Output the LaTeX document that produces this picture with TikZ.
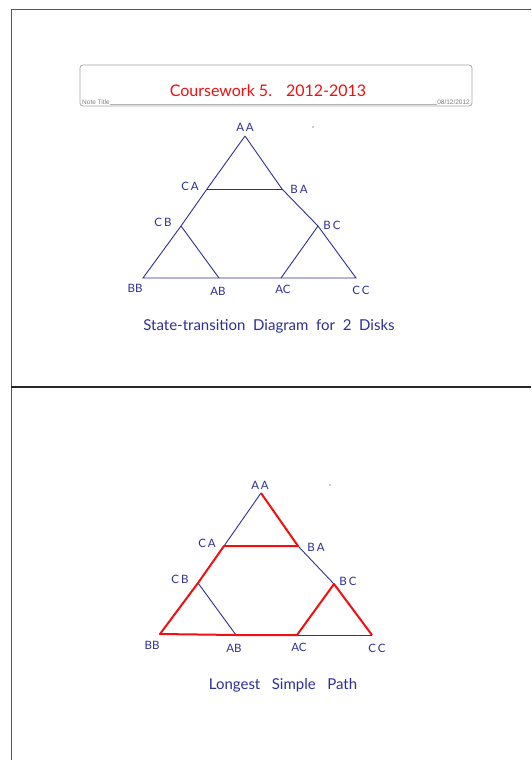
\documentclass[tikz,border=0pt]{standalone}
\usepackage{fontspec}
\setmainfont{Lato}
\newfontfamily\notefont{Liberation Sans}
\definecolor{inkblue}{HTML}{2E2F96}
\definecolor{inkred}{HTML}{F01010}
\definecolor{framegray}{HTML}{555555}
\begin{document}
\begin{tikzpicture}[x=1pt,y=-1pt,
  edge/.style={draw=inkblue,line width=0.9pt},
  redpath/.style={draw=inkred,line width=2pt},
  lbl/.style={text=inkblue,font=\fontsize{11.5}{13}\selectfont,inner sep=0pt},
  captext/.style={text=inkblue,font=\fontsize{15}{17}\selectfont,inner sep=0pt}]
\useasboundingbox (0,0) rectangle (531,760);
\fill[white] (0,0) rectangle (531,760);
% page frames
\draw[framegray,line width=1pt] (531,10) -- (11,10) -- (11,760);
\draw[black!85,line width=1.5pt] (11,387) -- (531,387);
% title box
\draw[gray!70,line width=0.8pt,rounded corners=3pt] (80,65) rectangle (472,106);
\node[anchor=west,inner sep=0pt,text=gray,font=\notefont\fontsize{6.5}{7}\selectfont] (nt) at (82,102) {Note Title};
\node[anchor=east,inner sep=0pt,text=gray,font=\notefont\fontsize{6.5}{7}\selectfont] (dt) at (470,102) {08/12/2012};
\draw[gray!60,line width=0.6pt] (nt.south east) -- (dt.south west);
\node[text=inkred,font=\fontsize{16}{19}\selectfont,inner sep=0pt] (title) at (268,91) {Coursework 5.\hspace{14pt}2012-2013};

% ---------- top diagram ----------
\coordinate (tAA) at (245,136);
\coordinate (tCA) at (207,189);
\coordinate (tBA) at (282,189);
\coordinate (tCB) at (181,226);
\coordinate (tBC) at (318,226);
\coordinate (tBB) at (143,278);
\coordinate (tAB) at (219,278);
\coordinate (tAC) at (281,278);
\coordinate (tCC) at (356,278);
\draw[edge] (tAA) -- (tCA) -- (tCB) -- (tBB) -- (tAB) -- (tAC) -- (tCC) -- (tBC) -- (tBA) -- (tAA);
\draw[edge] (tCA) -- (tBA);
\draw[edge] (tCB) -- (tAB);
\draw[edge] (tAC) -- (tBC);
\node[lbl] (ltAA) at (245,127) {A\,A};
\node[lbl] (ltCA) at (190,186) {C\,A};
\node[lbl] (ltBA) at (299,189) {B\,A};
\node[lbl] (ltCB) at (163,222) {C\,B};
\node[lbl] (ltBC) at (332,225) {B\,C};
\node[lbl] (ltBB) at (135,288) {BB};
\node[lbl] (ltAB) at (218,291) {AB};
\node[lbl] (ltAC) at (283,289) {AC};
\node[lbl] (ltCC) at (361,290) {C\,C};
\fill[inkblue!60!black] (313,127) circle (0.6);
\node[captext] (cap1) at (269,326) {State-transition\ \ Diagram\ \ for\ \ 2\ \ Disks};

% ---------- bottom diagram ----------
\coordinate (bAA) at (261,493);
\coordinate (bCA) at (224,546);
\coordinate (bBA) at (298,546);
\coordinate (bCB) at (198,583);
\coordinate (bBC) at (334,584);
\coordinate (bBB) at (160,634);
\coordinate (bAB) at (236,635);
\coordinate (bAC) at (297,635);
\coordinate (bCC) at (372,635);
\draw[edge] (bAA) -- (bCA);
\draw[edge] (bBA) -- (bBC);
\draw[edge] (bCB) -- (bAB);
\draw[edge] (bAC) -- (bCC);
\draw[redpath,line join=round] (bAA) -- (bBA) -- (bCA) -- (bCB) -- (bBB) -- (bAB) -- (bAC) -- (bBC) -- (bCC);
\node[lbl] (lbAA) at (260,485) {A\,A};
\node[lbl] (lbCA) at (207,543) {C\,A};
\node[lbl] (lbBA) at (316,547) {B\,A};
\node[lbl] (lbCB) at (180,579) {C\,B};
\node[lbl] (lbBC) at (348,581) {B\,C};
\node[lbl] (lbBB) at (152,645) {BB};
\node[lbl] (lbAB) at (234,648) {AB};
\node[lbl] (lbAC) at (299,647) {AC};
\node[lbl] (lbCC) at (377,648) {C\,C};
\fill[inkblue!60!black] (330,485) circle (0.6);
\node[captext] (cap2) at (283,685) {Longest\ \ \ Simple\ \ \ Path};
\end{tikzpicture}
\end{document}
